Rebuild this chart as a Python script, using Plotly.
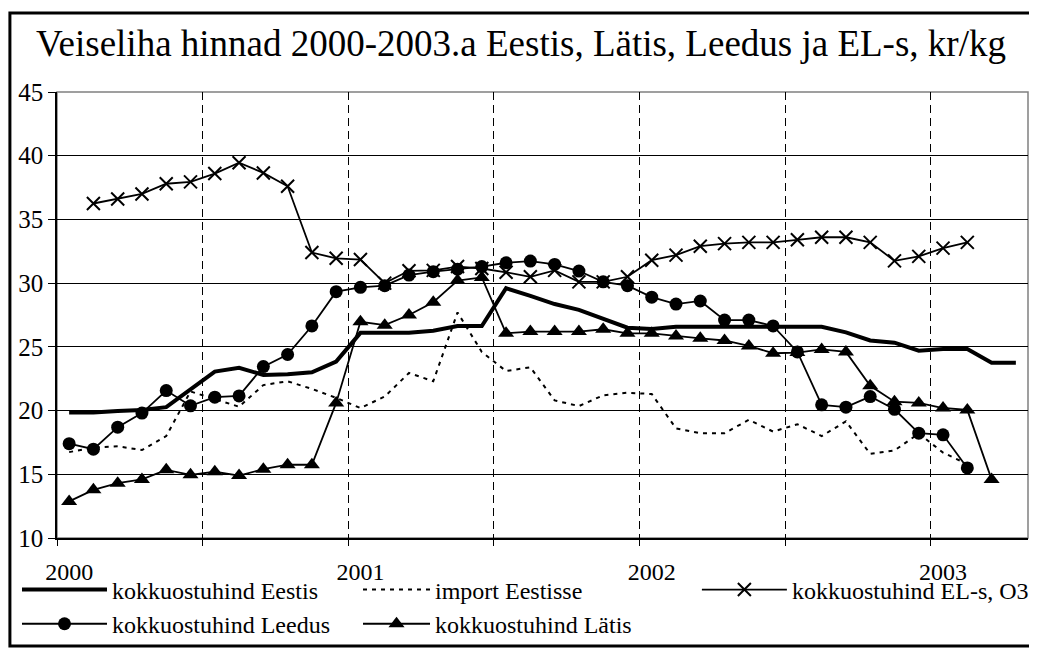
import plotly.graph_objects as go

months = list(range(40))  # Jan 2000 .. Apr 2003, one category per month
year_ticks = [0, 12, 24, 36]
year_labels = ["2000", "2001", "2002", "2003"]

eestis = [19.84, 19.84, 19.97, 20.05, 20.27, 21.7, 23.06, 23.35, 22.8, 22.85,
          23.0, 23.84, 26.1, 26.1, 26.1, 26.27, 26.63, 26.63, 29.6, 29.0,
          28.36, 27.9, 27.24, 26.5, 26.4, 26.58, 26.58, 26.58, 26.58, 26.58,
          26.58, 26.58, 26.14, 25.5, 25.33, 24.7, 24.83, 24.83, 23.76, 23.76]

import_ee = [16.74, 17.1, 17.2, 16.9, 18.0, 21.5, 20.9, 20.3, 22.0, 22.3,
             21.7, 21.0, 20.2, 21.1, 22.95, 22.3, 27.7, 24.6, 23.1, 23.4,
             20.8, 20.35, 21.2, 21.4, 21.3, 18.6, 18.23, 18.23, 19.27, 18.35,
             18.93, 18.0, 19.15, 16.6, 16.87, 18.2, 16.7, 15.8, None, None]

el = [None, 36.25, 36.6, 37.0, 37.8, 37.95, 38.6, 39.45, 38.65, 37.6,
      32.4, 31.95, 31.85, 30.0, 30.97, 31.0, 31.3, 31.15, 30.85, 30.5,
      31.0, 30.1, 30.1, 30.5, 31.8, 32.2, 32.9, 33.1, 33.2, 33.2,
      33.4, 33.6, 33.6, 33.2, 31.75, 32.1, 32.75, 33.2, None, None]

leedus = [17.4, 16.97, 18.7, 19.8, 21.57, 20.37, 21.05, 21.15, 23.45, 24.4,
          26.64, 29.33, 29.67, 29.8, 30.63, 30.9, 31.1, 31.3, 31.6, 31.73,
          31.47, 30.95, 30.1, 29.8, 28.9, 28.36, 28.6, 27.1, 27.1, 26.64,
          24.6, 20.45, 20.27, 21.1, 20.1, 18.23, 18.1, 15.5, None, None]

latis = [12.87, 13.78, 14.3, 14.6, 15.35, 14.96, 15.2, 14.9, 15.4, 15.75,
         15.75, 20.6, 26.97, 26.7, 27.5, 28.5, 30.2, 30.45, 26.06, 26.2,
         26.2, 26.2, 26.38, 26.06, 26.06, 25.85, 25.67, 25.5, 25.07, 24.5,
         24.55, 24.8, 24.6, 21.94, 20.7, 20.6, 20.2, 20.05, 14.6, None]

FONT = "Liberation Serif"

fig = go.Figure()
fig.add_trace(go.Scatter(x=months, y=eestis, name="kokkuostuhind Eestis", mode="lines",
                         legend="legend",
                         line=dict(color="black", width=4)))
fig.add_trace(go.Scatter(x=months, y=import_ee, name="import Eestisse", mode="lines",
                         legend="legend2",
                         line=dict(color="black", width=2, dash="4px,5px")))
fig.add_trace(go.Scatter(x=months, y=el, name="kokkuostuhind EL-s, O3", mode="lines+markers",
                         legend="legend3",
                         line=dict(color="black", width=1.8),
                         marker=dict(symbol="x-thin", size=13, line=dict(color="black", width=2))))
fig.add_trace(go.Scatter(x=months, y=leedus, name="kokkuostuhind Leedus", mode="lines+markers",
                         legend="legend",
                         line=dict(color="black", width=1.8),
                         marker=dict(symbol="circle", size=13, color="black")))
fig.add_trace(go.Scatter(x=months, y=latis, name="kokkuostuhind Lätis", mode="lines+markers",
                         legend="legend2",
                         line=dict(color="black", width=1.8),
                         marker=dict(symbol="triangle-up", size=14, color="black")))

# outer chart frame and grey plot border
fig.add_shape(type="rect", xref="paper", yref="paper",
              x0=-0.0485, x1=1.0072, y0=-0.242, y1=1.177,
              line=dict(color="black", width=3), layer="below")
fig.add_shape(type="rect", xref="paper", yref="paper", x0=0, x1=1, y0=0, y1=1,
              line=dict(color="#808080", width=1.5), layer="below")

leg_common = dict(orientation="v", xref="paper", yref="paper", xanchor="left",
                  y=-0.066, yanchor="top", tracegroupgap=0,
                  font=dict(family=FONT, size=24, color="black"),
                  bgcolor="rgba(0,0,0,0)")

fig.update_layout(
    width=1029, height=640,
    margin=dict(l=49, r=9, t=84, b=110, autoexpand=False),
    paper_bgcolor="white", plot_bgcolor="white",
    font=dict(family=FONT, size=24, color="black"),
    title=dict(text="Veiseliha hinnad 2000-2003.a Eestis, Lätis, Leedus ja EL-s, kr/kg",
               x=0.4985, xref="container", xanchor="center",
               y=0.945, yref="container", yanchor="middle",
               font=dict(family=FONT, size=37, color="black")),
    showlegend=True,
    legend=dict(x=-0.0412, itemwidth=85, **leg_common),
    legend2=dict(x=0.310, itemwidth=67, **leg_common),
    legend3=dict(x=0.659, itemwidth=85, **leg_common),
    xaxis=dict(range=[-0.5, 39.5], tickmode="array", tickvals=year_ticks, ticktext=year_labels,
               ticks="", showgrid=False, zeroline=False,
               showline=True, linecolor="black", linewidth=1.5,
               ticklabelstandoff=11,
               minor=dict(tick0=-0.5, dtick=6, ticks="outside", ticklen=6, tickcolor="black",
                          tickwidth=1, showgrid=True, gridcolor="black", gridwidth=1,
                          griddash="8px,5px")),
    yaxis=dict(range=[10, 45], tickmode="linear", tick0=10, dtick=5,
               ticks="outside", ticklen=7, tickcolor="black",
               showgrid=True, gridcolor="black", gridwidth=1, zeroline=False,
               showline=True, linecolor="black", linewidth=1.5,
               tickfont=dict(family=FONT, size=25)),
)

fig.write_html("out.html")
